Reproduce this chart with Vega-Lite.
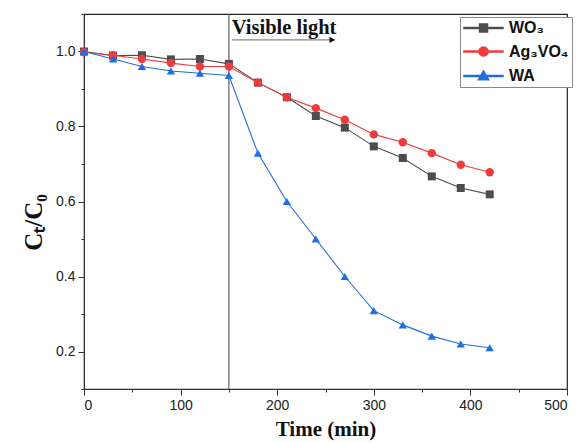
{
  "$schema": "https://vega.github.io/schema/vega-lite/v6.json",
  "width": 483,
  "height": 375,
  "autosize": "none",
  "padding": {"left": 84, "top": 14, "right": 19, "bottom": 54},
  "background": "white",
  "config": {
    "view": {"stroke": "#222", "strokeWidth": 1.2},
    "axis": {"grid": false, "domainColor": "#333", "tickColor": "#333", "labelFont": "Liberation Sans", "labelFontSize": 14, "labelColor": "#222", "titleFont": "Liberation Serif", "titleFontWeight": "bold", "titleColor": "#111", "labelOverlap": false, "labelBound": false}
  },
  "resolve": {"axis": {"y": "independent"}},
  "datasets": {
    "series": [
      {"t": 0, "v": 1.0, "s": "WO₃"}, {"t": 30, "v": 0.989, "s": "WO₃"}, {"t": 60, "v": 0.99, "s": "WO₃"}, {"t": 90, "v": 0.979, "s": "WO₃"}, {"t": 120, "v": 0.98, "s": "WO₃"}, {"t": 150, "v": 0.967, "s": "WO₃"}, {"t": 180, "v": 0.917, "s": "WO₃"}, {"t": 210, "v": 0.878, "s": "WO₃"}, {"t": 240, "v": 0.828, "s": "WO₃"}, {"t": 270, "v": 0.797, "s": "WO₃"}, {"t": 300, "v": 0.747, "s": "WO₃"}, {"t": 330, "v": 0.716, "s": "WO₃"}, {"t": 360, "v": 0.667, "s": "WO₃"}, {"t": 390, "v": 0.636, "s": "WO₃"}, {"t": 420, "v": 0.619, "s": "WO₃"},
      {"t": 0, "v": 0.998, "s": "Ag₃VO₄"}, {"t": 30, "v": 0.99, "s": "Ag₃VO₄"}, {"t": 60, "v": 0.98, "s": "Ag₃VO₄"}, {"t": 90, "v": 0.969, "s": "Ag₃VO₄"}, {"t": 120, "v": 0.96, "s": "Ag₃VO₄"}, {"t": 150, "v": 0.96, "s": "Ag₃VO₄"}, {"t": 180, "v": 0.917, "s": "Ag₃VO₄"}, {"t": 210, "v": 0.878, "s": "Ag₃VO₄"}, {"t": 240, "v": 0.849, "s": "Ag₃VO₄"}, {"t": 270, "v": 0.818, "s": "Ag₃VO₄"}, {"t": 300, "v": 0.779, "s": "Ag₃VO₄"}, {"t": 330, "v": 0.758, "s": "Ag₃VO₄"}, {"t": 360, "v": 0.729, "s": "Ag₃VO₄"}, {"t": 390, "v": 0.698, "s": "Ag₃VO₄"}, {"t": 420, "v": 0.678, "s": "Ag₃VO₄"},
      {"t": 0, "v": 1.0, "s": "WA"}, {"t": 30, "v": 0.98, "s": "WA"}, {"t": 60, "v": 0.96, "s": "WA"}, {"t": 90, "v": 0.948, "s": "WA"}, {"t": 120, "v": 0.942, "s": "WA"}, {"t": 150, "v": 0.936, "s": "WA"}, {"t": 180, "v": 0.729, "s": "WA"}, {"t": 210, "v": 0.6, "s": "WA"}, {"t": 240, "v": 0.5, "s": "WA"}, {"t": 270, "v": 0.4, "s": "WA"}, {"t": 300, "v": 0.309, "s": "WA"}, {"t": 330, "v": 0.271, "s": "WA"}, {"t": 360, "v": 0.241, "s": "WA"}, {"t": 390, "v": 0.22, "s": "WA"}, {"t": 420, "v": 0.21, "s": "WA"}
    ],
    "vline": [{"t": 150}],
    "arrow": [{"x1": 153, "x2": 260, "y": 1.031}],
    "head": [{"x": 257, "y": 1.031}],
    "label": [{"x": 153, "y": 1.047, "text": "Visible light"}]
  },
  "layer": [
    {
      "data": {"name": "vline"},
      "mark": {"type": "rule", "color": "#444", "strokeWidth": 1},
      "encoding": {"x": {"field": "t", "type": "quantitative", "scale": {"domain": [0, 500]}}}
    },
    {
      "data": {"name": "series"},
      "mark": {"type": "line", "strokeWidth": 1.1},
      "encoding": {
        "x": {"field": "t", "type": "quantitative", "scale": {"domain": [0, 500], "nice": false},
              "axis": {"values": [0, 50, 100, 150, 200, 250, 300, 350, 400, 450, 500], "labelExpr": "datum.value % 100 == 0 ? datum.label : ''", "tickSize": {"condition": {"test": "datum.value % 100 == 0", "value": 6}, "value": 3}, "title": "Time (min)", "titleFontSize": 21, "titlePadding": 6, "labelPadding": 3}},
        "y": {"field": "v", "type": "quantitative", "scale": {"domain": [0.1, 1.1], "nice": false, "zero": false},
              "axis": {"values": [0.2, 0.4, 0.6, 0.8, 1.0], "format": ".1f", "tickSize": 6, "title": "Cₜ/C₀", "titleFontSize": 25, "titlePadding": 9, "titleY": 208, "labelPadding": 3}},
        "color": {"field": "s", "type": "nominal", "scale": {"domain": ["WO₃", "Ag₃VO₄", "WA"], "range": ["#4d4d4d", "#ef3b3b", "#1f6fe0"]}}
      }
    },
    {
      "data": {"name": "series"},
      "transform": [{"filter": "datum.s == 'WO₃'"}],
      "mark": {"type": "point", "shape": "square", "filled": true, "opacity": 1, "size": 64},
      "encoding": {"x": {"field": "t", "type": "quantitative"}, "y": {"field": "v", "type": "quantitative", "axis": null}, "color": {"field": "s", "type": "nominal"}}
    },
    {
      "data": {"name": "series"},
      "transform": [{"filter": "datum.s == 'Ag₃VO₄'"}],
      "mark": {"type": "point", "shape": "circle", "filled": true, "opacity": 1, "size": 70},
      "encoding": {"x": {"field": "t", "type": "quantitative"}, "y": {"field": "v", "type": "quantitative", "axis": null}, "color": {"field": "s", "type": "nominal"}}
    },
    {
      "data": {"name": "series"},
      "transform": [{"filter": "datum.s == 'WA'"}],
      "mark": {"type": "point", "shape": "triangle-up", "filled": true, "opacity": 1, "size": 70},
      "encoding": {"x": {"field": "t", "type": "quantitative"}, "y": {"field": "v", "type": "quantitative", "axis": null}, "color": {"field": "s", "type": "nominal"}}
    },
    {
      "data": {"name": "series"},
      "transform": [{"filter": "datum.t < 0"}],
      "mark": {"type": "point", "filled": true, "opacity": 1},
      "encoding": {
        "x": {"field": "t", "type": "quantitative"},
        "y": {"field": "v", "type": "quantitative", "axis": {"orient": "left", "values": [0.1, 0.3, 0.5, 0.7, 0.9, 1.1], "labels": false, "tickSize": 3, "domain": false, "title": null}},
        "color": {"field": "s", "type": "nominal",
          "legend": {"title": null, "orient": "none", "legendX": 376, "legendY": 3, "padding": 3, "strokeColor": "#888", "fillColor": "white", "labelFont": "Liberation Sans", "labelFontWeight": "bold", "labelFontSize": 16, "labelColor": "#111", "symbolSize": 196, "rowPadding": 7.5, "labelOffset": 30}},
        "shape": {"field": "s", "type": "nominal", "scale": {"domain": ["WO₃", "Ag₃VO₄", "WA"], "range": [
          "M-1,-0.075 L4.57,-0.075 L4.57,0.075 L-1,0.075 Z M1.22,-0.57 L2.36,-0.57 L2.36,0.57 L1.22,0.57 Z",
          "M-1,-0.075 L4.57,-0.075 L4.57,0.075 L-1,0.075 Z M1.15,0 A0.64,0.64 0 1,0 2.43,0 A0.64,0.64 0 1,0 1.15,0 Z",
          "M-1,-0.075 L4.57,-0.075 L4.57,0.075 L-1,0.075 Z M1.79,-0.72 L2.52,0.55 L1.06,0.55 Z"
        ]}}
      }
    },
    {
      "data": {"name": "arrow"},
      "mark": {"type": "rule", "color": "#888", "strokeWidth": 1.2},
      "encoding": {"x": {"field": "x1", "type": "quantitative"}, "x2": {"field": "x2"}, "y": {"field": "y", "type": "quantitative", "axis": null}}
    },
    {
      "data": {"name": "head"},
      "mark": {"type": "point", "shape": "triangle-right", "filled": true, "color": "#111", "size": 40, "opacity": 1},
      "encoding": {"x": {"field": "x", "type": "quantitative"}, "y": {"field": "y", "type": "quantitative", "axis": null}}
    },
    {
      "data": {"name": "label"},
      "mark": {"type": "text", "align": "left", "baseline": "alphabetic", "font": "Liberation Serif", "fontWeight": "bold", "fontSize": 20.5, "color": "#111"},
      "encoding": {"x": {"field": "x", "type": "quantitative"}, "y": {"field": "y", "type": "quantitative", "axis": null}, "text": {"field": "text"}}
    }
  ]
}
